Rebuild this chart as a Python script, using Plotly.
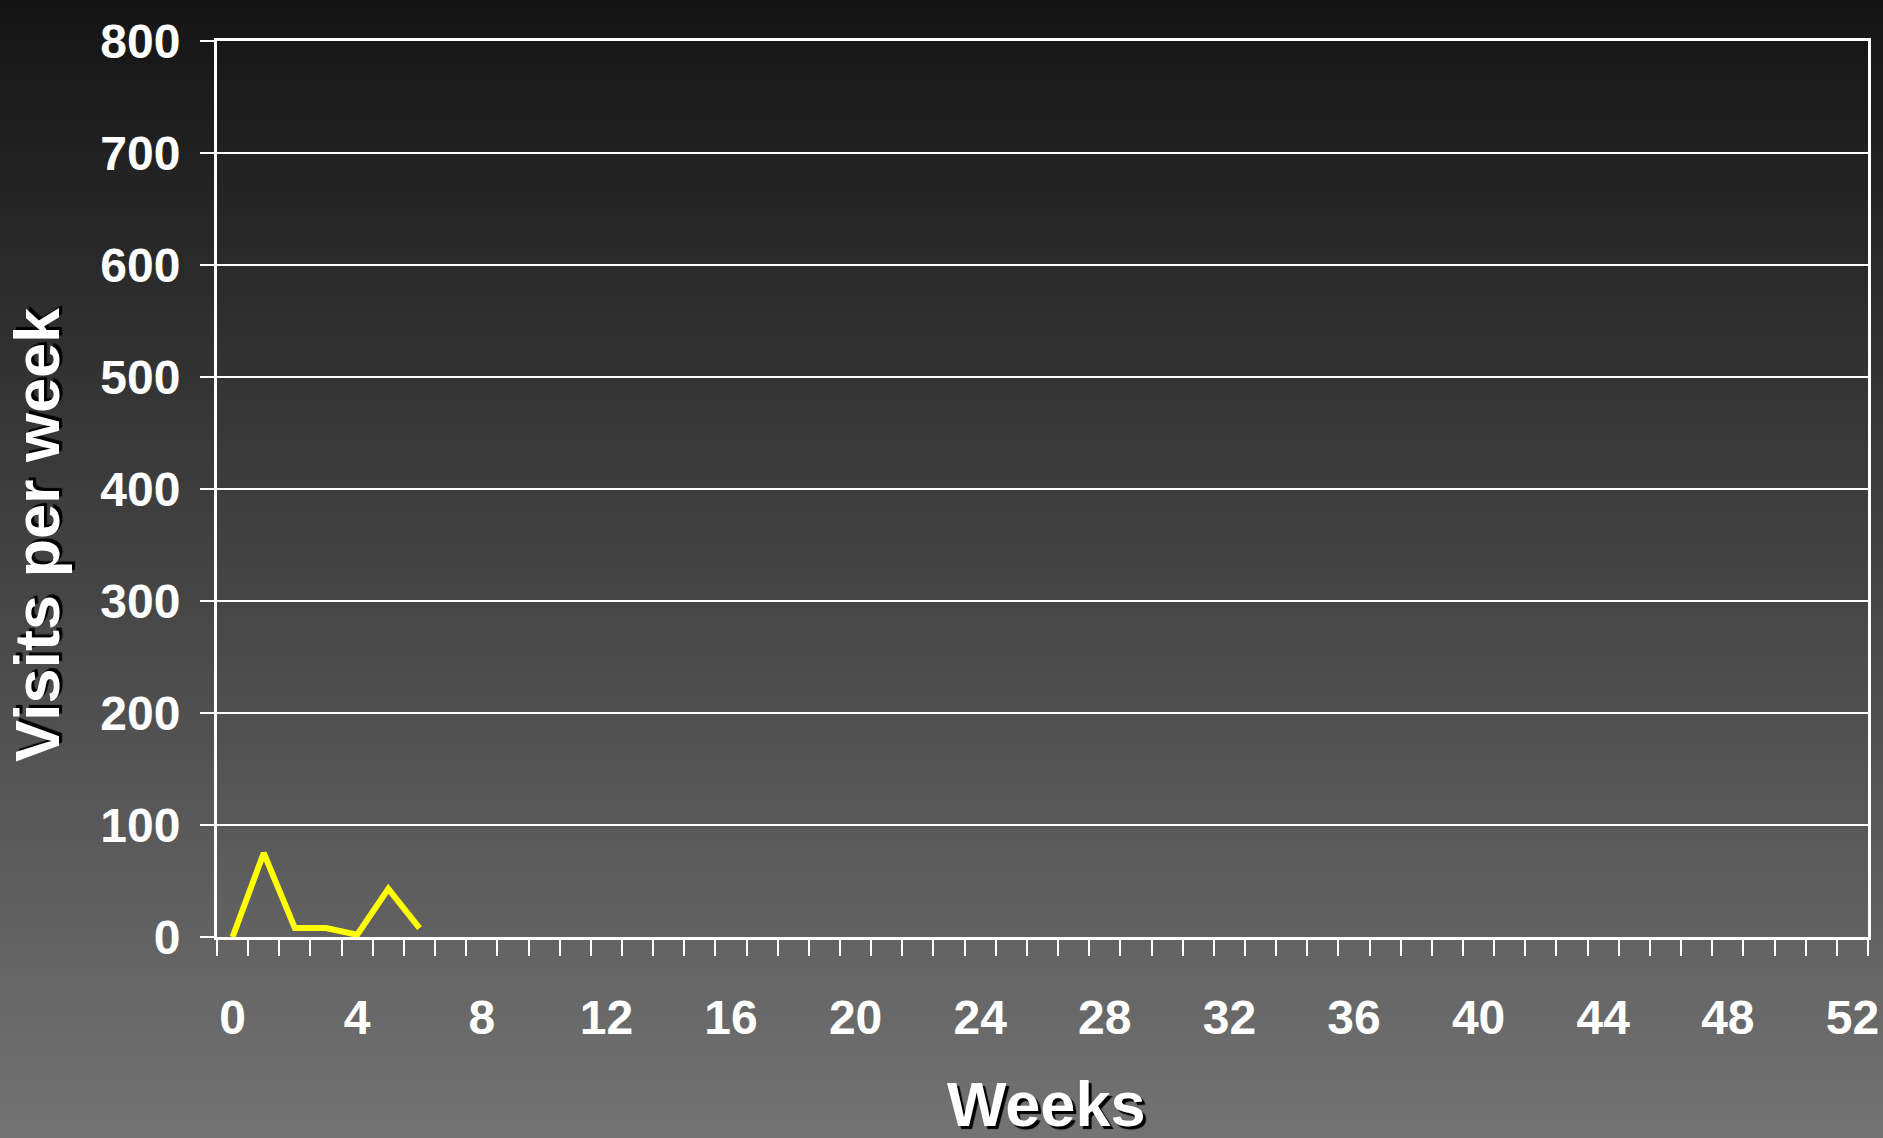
import plotly.graph_objects as go

weeks = [0, 1, 2, 3, 4, 5, 6]
visits = [0, 75, 8, 8, 2, 43, 8]
x_tick_vals = list(range(0, 53, 4))
x_tick_text = [str(v) for v in x_tick_vals]
y_tick_vals = list(range(0, 801, 100))

W, H = 1883, 1138
L, R, T, B = 217, 15, 41, 201
pw, ph = W - L - R, H - T - B

fig = go.Figure()
fig.add_trace(go.Scatter(x=weeks, y=visits, mode="lines",
                         line=dict(color="#FFFF00", width=6), showlegend=False))

# vertical gradient background built from strips
shapes = []
n = 120
for i in range(n):
    py0 = H * i / n
    py1 = H * (i + 1) / n + 1
    t = (i + 0.5) / n
    c = int(round(20 + (115 - 20) * t))
    shapes.append(dict(type="rect", xref="paper", yref="paper", layer="below",
                       x0=-L / pw - 0.01, x1=(W - L) / pw + 0.01,
                       y0=(H - B - py1) / ph, y1=(H - B - py0) / ph,
                       fillcolor=f"rgb({c},{c},{c})", line=dict(width=0)))

tickfont = dict(family="Liberation Sans Narrow, Arial Narrow, Liberation Sans", size=48,
                color="white", weight="bold")
titlefont = dict(family="Liberation Sans, Arial", size=63, color="white", weight="bold",
                 shadow="3px 3px 1px #000")

fig.update_layout(
    width=W, height=H,
    margin=dict(l=L, r=R, t=T, b=B, autoexpand=False),
    paper_bgcolor="rgb(20,20,20)",
    plot_bgcolor="rgba(0,0,0,0)",
    shapes=shapes,
    xaxis=dict(range=[-0.5, 52.5], tickvals=x_tick_vals, ticktext=x_tick_text,
               ticks="", showgrid=False, zeroline=False, automargin=False,
               showline=True, linecolor="white", linewidth=3, mirror=True,
               tickfont=tickfont, ticklabelstandoff=36,
               minor=dict(ticks="outside", tick0=-0.5, dtick=1, ticklen=16,
                          tickcolor="white", tickwidth=2, showgrid=False)),
    yaxis=dict(range=[0, 800], tickvals=y_tick_vals, ticks="outside", ticklen=14,
               tickcolor="white", tickwidth=2, showgrid=True, gridcolor="white",
               gridwidth=2, zeroline=False, showline=True, linecolor="white",
               linewidth=3, mirror=True, tickfont=tickfont, ticklabelstandoff=10,
               automargin=False),
    annotations=[
        dict(text="Visits per week", xref="paper", yref="paper",
             x=(37 - L) / pw, y=(H - B - 535) / ph, textangle=-90,
             showarrow=False, xanchor="center", yanchor="middle", font=titlefont),
        dict(text="Weeks", xref="paper", yref="paper",
             x=(1046 - L) / pw, y=(H - B - 1104) / ph,
             showarrow=False, xanchor="center", yanchor="middle", font=titlefont),
    ],
)

fig.write_html("out.html")
